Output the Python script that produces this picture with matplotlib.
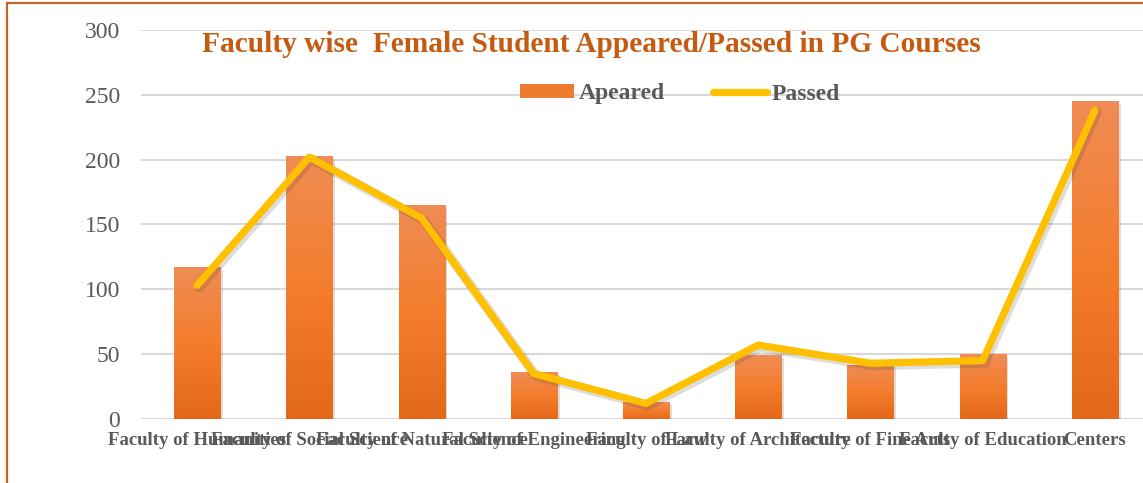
import numpy as np
import matplotlib
matplotlib.use("Agg")
import matplotlib.pyplot as plt
from matplotlib.patches import Rectangle, Patch
from matplotlib.lines import Line2D
from matplotlib.colors import LinearSegmentedColormap
import matplotlib.patheffects as pe

categories = ["Faculty of Humanities", "Faculty of Social Science", "Faculty of Natural Science",
              "Faculty of Engineering", "Faculty of Law", "Faculty of Architecture",
              "Faculty of Fine Arts", "Faculty of Education", "Centers"]
appeared = [117, 203, 165, 36, 13, 49, 42, 50, 245]
passed = [103, 202, 155, 35, 12, 57, 43, 45, 238]
yticks = [0, 50, 100, 150, 200, 250, 300]

title = "Faculty wise  Female Student Appeared/Passed in PG Courses"

W, H = 1143, 483
fig = plt.figure(figsize=(W / 100, H / 100), dpi=100)
ax = fig.add_axes([141 / W, (H - 419) / H, 1010 / W, 389 / H])

serif = ["Liberation Serif", "DejaVu Serif"]
gray = "#595959"

x = np.arange(len(categories))
bars = ax.bar(x, appeared, width=0.41, color="#EE7B30", zorder=2,
              path_effects=[pe.SimplePatchShadow(offset=(2, -2), alpha=0.2, shadow_rgbFace="#555555"), pe.Normal()])

cmap = LinearSegmentedColormap.from_list("g", ["#E2681A", "#F47D2C", "#F08C55"])
grad = np.linspace(0, 1, 256).reshape(-1, 1)
for b in bars:
    x0, y0 = b.get_x(), b.get_y()
    w, h = b.get_width(), b.get_height()
    im = ax.imshow(grad, cmap=cmap, origin="lower", aspect="auto",
                   extent=(x0, x0 + w, y0, y0 + h), zorder=2.5)
    im.set_clip_path(b)

ax.plot(x, passed, color="#FFC000", lw=5.2, solid_capstyle="round", solid_joinstyle="round",
        zorder=3,
        path_effects=[pe.SimpleLineShadow(offset=(1.5, -1.5), alpha=0.18, shadow_color="#444444",
                                          linewidth=7), pe.Normal()])

ax.set_xlim(-0.5, len(categories) - 0.5)
ax.set_ylim(0, 300)
ax.set_yticks(yticks)
ax.set_yticklabels([str(v) for v in yticks], family=serif, fontsize=17, color=gray)
ax.set_xticks(x)
ax.set_xticklabels(categories, family=serif, fontsize=13.5, fontweight="bold", color=gray)
ax.tick_params(axis="both", length=0)
ax.tick_params(axis="y", pad=15)
ax.tick_params(axis="x", pad=9.5)
for s in ax.spines.values():
    s.set_visible(False)
ax.grid(axis="y", color="#D9D9D9", lw=1.5, zorder=0)
ax.set_axisbelow(True)
ax.set_facecolor("none")

fig.text(202 / W, 1 - 52 / H, title, ha="left", va="baseline", family=serif,
         fontsize=21.2, fontweight="bold", color="#C55A11")

handles = [Patch(facecolor="#EE7B30", edgecolor="none"),
           Line2D([], [], color="#FFC000", lw=5.2, solid_capstyle="round")]
fig.legend(handles, ["Apeared", "Passed"], loc="center left",
           bbox_to_anchor=(520 / W, 1 - 94 / H), ncol=2, frameon=False,
           prop={"family": serif, "size": 17, "weight": "bold"}, labelcolor=gray,
           handlelength=2.3, handleheight=0.55, handletextpad=0.2, columnspacing=2.0,
           borderpad=0, borderaxespad=0)

fig.patches.append(Rectangle((7 / W, -0.1), 1.2, 1 - 3 / H + 0.1, transform=fig.transFigure,
                             fill=False, edgecolor="#C8642A", lw=1.6, zorder=10))

fig.savefig("out.png", dpi=100)
